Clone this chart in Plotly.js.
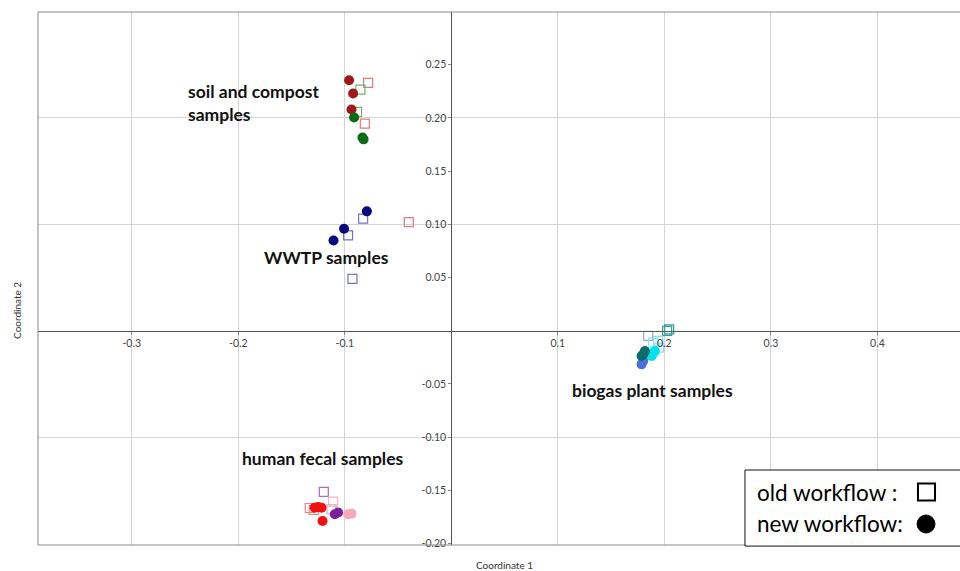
<!DOCTYPE html>
<html>
<head>
<meta charset="utf-8">
<script src="https://cdn.plot.ly/plotly-3.0.1.min.js"></script>
<style>html,body{margin:0;padding:0;background:#fff;}#chart{width:960px;height:571px;}</style>
</head>
<body>
<div id="chart"></div>
<script>
// ---- data (Coordinate 1, Coordinate 2) ----
// soil and compost samples
const soilRedNewX = [-0.0960, -0.0922, -0.0937];
const soilRedNewY = [0.2354, 0.2229, 0.2078];
const soilRedOldX = [-0.0781, -0.0812, -0.0399];
const soilRedOldY = [0.2329, 0.1946, 0.1020];
const soilGreenOldX = [-0.0853, -0.0885];
const soilGreenOldY = [0.2266, 0.2056];
const soilGreenNewX = [-0.0913, -0.0834, -0.0824];
const soilGreenNewY = [0.2003, 0.1815, 0.1798];
// WWTP samples
const wwtpNewX = [-0.0793, -0.1007, -0.1106];
const wwtpNewY = [0.1121, 0.0958, 0.0847];
const wwtpOldX = [-0.0828, -0.0969, -0.0928];
const wwtpOldY = [0.1052, 0.0895, 0.0487];
// biogas plant samples
const bioTealOldX = [0.2045, 0.2026];
const bioTealOldY = [0.0012, -0.0003];
const bioLavOldX = [0.1848];
const bioLavOldY = [-0.0050];
const bioCyanOldX = [0.1895, 0.1951, 0.1942];
const bioCyanOldY = [-0.0113, -0.0160, -0.0097];
const bioCyanNewX = [0.1911, 0.1880, 0.1895];
const bioCyanNewY = [-0.0191, -0.0238, -0.0210];
const bioTealNewX = [0.1817, 0.1801, 0.1786];
const bioTealNewY = [-0.0191, -0.0223, -0.0238];
const bioBlueNewX = [0.1801, 0.1786];
const bioBlueNewY = [-0.0285, -0.0317];
// human fecal samples
const fecPurpleOldX = [-0.1197];
const fecPurpleOldY = [-0.1516];
const fecPinkOldX = [-0.1110];
const fecPinkOldY = [-0.1607];
const fecLavOldX = [-0.1125];
const fecLavOldY = [-0.1679];
const fecRedOldX = [-0.1329, -0.1291];
const fecRedOldY = [-0.1667, -0.1686];
const fecRedNewX = [-0.1282, -0.1251, -0.1219, -0.1209];
const fecRedNewY = [-0.1664, -0.1657, -0.1664, -0.1789];
const fecPurpleNewX = [-0.1094, -0.1063];
const fecPurpleNewY = [-0.1726, -0.1710];
const fecPinkNewX = [-0.0969, -0.0937];
const fecPinkNewY = [-0.1726, -0.1720];

// ticks
const xTickVals = [-0.3, -0.2, -0.1, 0.1, 0.2, 0.3, 0.4];
const xTickText = ['-0.3', '-0.2', '-0.1', '0.1', '0.2', '0.3', '0.4'];
const yTickVals = [-0.2, -0.15, -0.1, -0.05, 0.05, 0.1, 0.15, 0.2, 0.25];
const yTickText = ['-0.20', '-0.15', '-0.10', '-0.05', '0.05', '0.10', '0.15', '0.20', '0.25'];
const yGridVals = [-0.1, 0.1, 0.2];

const groupLabels = ['soil and compost<br>samples', 'WWTP samples', 'biogas plant samples', 'human fecal samples'];
const legendLabels = ['old workflow :', 'new workflow:'];

const xRange = [-0.388, 0.4775];
const yRange = [-0.2015, 0.2995];

function pts(x, y, color, open) {
  return {
    type: 'scatter', mode: 'markers', x: x, y: y, hoverinfo: 'skip', showlegend: false,
    marker: open
      ? {symbol: 'square-open', size: 9, color: color, line: {width: 1.2, color: color}}
      : {symbol: 'circle', size: 10, color: color, line: {width: 0}}
  };
}

const traces = [
  {type: 'scatter', x: [], y: [], yaxis: 'y2', showlegend: false, hoverinfo: 'skip'},
  pts(soilRedOldX, soilRedOldY, '#e07a7a', true),
  pts(soilGreenOldX, soilGreenOldY, '#6fb06f', true),
  pts(soilRedNewX, soilRedNewY, '#a01818', false),
  pts(soilGreenNewX, soilGreenNewY, '#0b6a14', false),
  pts(wwtpOldX, wwtpOldY, '#7272cc', true),
  pts(wwtpNewX, wwtpNewY, '#0a0a80', false),
  pts(bioTealOldX, bioTealOldY, '#2a9d9d', true),
  pts(bioLavOldX, bioLavOldY, '#9ea6e0', true),
  pts(bioCyanOldX, bioCyanOldY, '#7fe6ee', true),
  pts(bioCyanNewX, bioCyanNewY, '#00e1ee', false),
  pts(bioBlueNewX, bioBlueNewY, '#4a6fe0', false),
  pts(bioTealNewX, bioTealNewY, '#0d6b6b', false),
  pts(fecPurpleOldX, fecPurpleOldY, '#a070c8', true),
  pts(fecPinkOldX, fecPinkOldY, '#f2b6c0', true),
  pts(fecLavOldX, fecLavOldY, '#c8a8e0', true),
  pts(fecRedOldX, fecRedOldY, '#f07f7f', true),
  pts(fecRedNewX, fecRedNewY, '#f01010', false),
  pts(fecPurpleNewX, fecPurpleNewY, '#7a1fa0', false),
  pts(fecPinkNewX, fecPinkNewY, '#f4a8b8', false)
];

const tickFont = {family: 'Lato, "Open Sans", sans-serif', size: 10.5, color: '#444'};
const labelFont = {family: 'Lato, "Open Sans", sans-serif', size: 17.5, color: '#111', weight: 'bold'};

const layout = {
  width: 960, height: 571,
  margin: {l: 38, r: 0, t: 12, b: 26},
  paper_bgcolor: '#fff', plot_bgcolor: '#fff',
  showlegend: false,
  xaxis: {
    range: xRange, anchor: 'free',
    position: (0 - yRange[0]) / (yRange[1] - yRange[0]),
    tickvals: xTickVals, ticktext: xTickText,
    showgrid: true, gridcolor: '#d4d4d4', gridwidth: 1,
    zeroline: false, showline: true, linecolor: '#555', linewidth: 1,
    ticks: 'outside', ticklen: 3, tickcolor: '#888',
    tickfont: tickFont, fixedrange: true
  },
  yaxis: {
    range: yRange, anchor: 'free',
    position: (0 - xRange[0]) / (xRange[1] - xRange[0]),
    tickvals: yTickVals, ticktext: yTickText,
    showgrid: false, zeroline: false, showline: true, linecolor: '#555', linewidth: 1,
    ticks: 'outside', ticklen: 3, tickcolor: '#888',
    tickfont: tickFont, fixedrange: true
  },
  yaxis2: {
    range: yRange, overlaying: 'y', tickvals: yGridVals,
    showgrid: true, gridcolor: '#d4d4d4', gridwidth: 1,
    showticklabels: false, showline: false, zeroline: false, ticks: '', fixedrange: true
  },
  shapes: [
    {type: 'rect', xref: 'paper', yref: 'paper', x0: 0, x1: 1.01, y0: 0, y1: 1,
     line: {color: '#8a8a8a', width: 1}, fillcolor: 'rgba(0,0,0,0)', layer: 'above'},
    {type: 'rect', xref: 'paper', yref: 'paper', x0: 0.7668, x1: 1.01, y0: -0.002, y1: 0.1407,
     line: {color: '#111', width: 1}, fillcolor: '#fff', layer: 'above'},
    {type: 'rect', xref: 'paper', yref: 'paper', x0: 0.9544, x1: 0.9729, y0: 0.0835, y1: 0.1154,
     line: {color: '#000', width: 2}, fillcolor: '#fff', layer: 'above'},
    {type: 'circle', xref: 'paper', yref: 'paper', x0: 0.9534, x1: 0.9729, y0: 0.0225, y1: 0.0563,
     line: {color: '#000', width: 1}, fillcolor: '#000', layer: 'above'}
  ],
  annotations: [
    {xref: 'x', yref: 'y', x: -0.2493, y: 0.2137, text: groupLabels[0], showarrow: false,
     xanchor: 'left', yanchor: 'middle', align: 'left', font: labelFont},
    {xref: 'x', yref: 'y', x: -0.178, y: 0.0687, text: groupLabels[1], showarrow: false,
     xanchor: 'left', yanchor: 'middle', font: labelFont},
    {xref: 'x', yref: 'y', x: 0.111, y: -0.0565, text: groupLabels[2], showarrow: false,
     xanchor: 'left', yanchor: 'middle', font: labelFont},
    {xref: 'x', yref: 'y', x: -0.1986, y: -0.1205, text: groupLabels[3], showarrow: false,
     xanchor: 'left', yanchor: 'middle', font: labelFont},
    {xref: 'paper', yref: 'paper', x: 0.5065, y: -0.0375, text: 'Coordinate 1', showarrow: false,
     xanchor: 'center', yanchor: 'middle', font: {family: 'Lato, sans-serif', size: 10, color: '#333'}},
    {xref: 'paper', yref: 'paper', x: -0.0228, y: 0.441, text: 'Coordinate 2', showarrow: false,
     textangle: -90, xanchor: 'center', yanchor: 'middle', font: {family: 'Lato, sans-serif', size: 10, color: '#333'}},
    {xref: 'paper', yref: 'paper', x: 0.7777, y: 0.0994, text: legendLabels[0], showarrow: false,
     xanchor: 'left', yanchor: 'middle', font: {family: 'Lato, sans-serif', size: 22.5, color: '#000'}},
    {xref: 'paper', yref: 'paper', x: 0.7777, y: 0.0394, text: legendLabels[1], showarrow: false,
     xanchor: 'left', yanchor: 'middle', font: {family: 'Lato, sans-serif', size: 22.5, color: '#000'}}
  ]
};

Plotly.newPlot('chart', traces, layout, {displayModeBar: false, staticPlot: true});
</script>
</body>
</html>
